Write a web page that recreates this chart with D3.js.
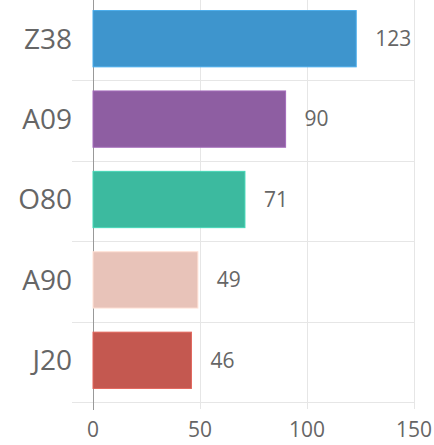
<!DOCTYPE html>
<html><head><meta charset="utf-8">
<script src="https://cdn.jsdelivr.net/npm/d3@7"></script>
<style>body{margin:0;background:#fff}svg{display:block}text{font-family:"Open Sans",sans-serif;fill:#666}</style>
</head><body>
<script>
const categories = ["Z38","A09","O80","A90","J20"];
const values = [123,90,71,49,46];
const colors = ["#3e95cd","#8e5ea2","#3cba9f","#e8c3b9","#c45850"];
const ticks = [0,50,100,150];

const W=434,H=445;
const svg=d3.select("body").append("svg").attr("width",W).attr("height",H);
const x=d3.scaleLinear().domain([0,150]).range([93,414]);
const y=d3.scaleBand().domain(categories).range([0,402]).paddingInner(0.3).paddingOuter(0.15);
const step=y.step();
const bandStart=c=>y(c)-y.paddingInner()*step/2;
const off=-1.5;

// horizontal grid lines (band boundaries)
const bounds=categories.map((c,i)=>bandStart(c)).slice(1).concat([402]);
svg.append("g").selectAll("line").data(bounds).join("line")
  .attr("x1",72).attr("x2",414).attr("y1",d=>Math.round(d)+0.5).attr("y2",d=>Math.round(d)+0.5)
  .attr("stroke","#e6e6e6");
// vertical grid lines
svg.append("g").selectAll("line").data(ticks.slice(1)).join("line")
  .attr("x1",d=>Math.round(x(d))+0.5).attr("x2",d=>Math.round(x(d))+0.5).attr("y1",0).attr("y2",409)
  .attr("stroke","#e6e6e6");
// axis line
svg.append("line").attr("x1",Math.round(x(0))+0.5).attr("x2",Math.round(x(0))+0.5).attr("y1",0).attr("y2",410)
  .attr("stroke","#999");

// bars
svg.append("g").selectAll("rect").data(categories).join("rect")
  .attr("x",x(0)).attr("y",c=>y(c)+off).attr("height",y.bandwidth())
  .attr("width",(c,i)=>x(values[i])-x(0))
  .attr("fill",(c,i)=>colors[i])
  .attr("stroke",(c,i)=>d3.color(colors[i]).brighter(0.4)).attr("stroke-width",1);

// value labels
svg.append("g").selectAll("text").data(categories).join("text")
  .attr("x",(c,i)=>x(values[i])+19).attr("y",c=>y(c)+y.bandwidth()/2+off)
  .attr("dy","0.35em").attr("font-size",21).text((c,i)=>values[i]);

// category labels
svg.append("g").selectAll("text").data(categories).join("text")
  .attr("x",72).attr("y",c=>y(c)+y.bandwidth()/2+off).attr("text-anchor","end")
  .attr("dy","0.35em").attr("font-size",28).text(c=>c);

// x tick labels
svg.append("g").selectAll("text").data(ticks).join("text")
  .attr("x",d=>x(d)).attr("y",430).attr("text-anchor","middle")
  .attr("dy","0.35em").attr("font-size",21).text(d=>d);
</script>
</body></html>
